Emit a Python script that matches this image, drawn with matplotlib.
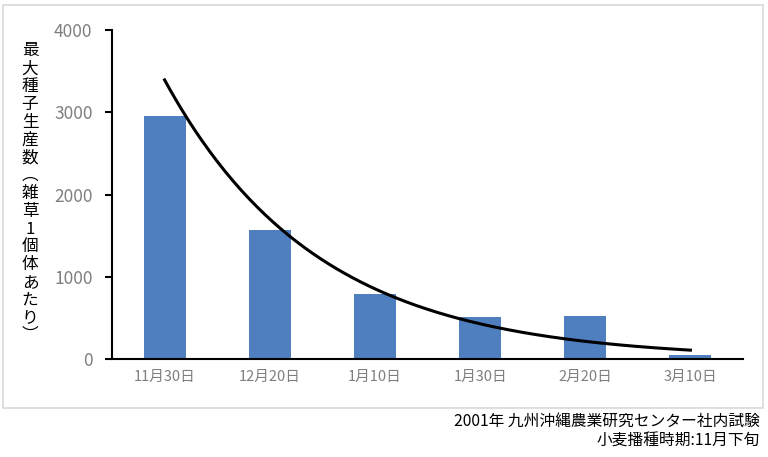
import numpy as np
import matplotlib.pyplot as plt
from matplotlib.patches import Rectangle

plt.rcParams['font.family'] = ['Noto Sans CJK JP', 'DejaVu Sans']

# ---------------- data ----------------
dates = ['11月30日', '12月20日', '1月10日', '1月30日', '2月20日', '3月10日']
seeds = [2960, 1570, 790, 510, 520, 50]
ylabel_chars = ['最', '大', '種', '子', '生', '産', '数', '︵', '雑', '草',
                '1', '個', '体', 'あ', 'た', 'り', '︶']
yticks = [0, 1000, 2000, 3000, 4000]
note1 = '2001年 九州沖縄農業研究センター社内試験'
note2 = '小麦播種時期:11月下旬'

# exponential trendline fitted to the bars (like Excel)
xi = np.arange(1, len(seeds) + 1)
b, ln_a = np.polyfit(xi, np.log(seeds), 1)
xs = np.linspace(1, len(seeds), 200)
trend = np.exp(ln_a) * np.exp(b * xs)

# ---------------- plot ----------------
fig = plt.figure(figsize=(7.68, 4.57), dpi=100)
fig.patches.append(Rectangle((3 / 768, 1 - 408 / 457), 760 / 768, 403 / 457,
                             transform=fig.transFigure, fill=False,
                             edgecolor='#d9d9d9', lw=1.2))

ax = fig.add_axes([112 / 768, 1 - 359 / 457, 631 / 768, 329 / 457])
pos = np.arange(len(dates))
ax.bar(pos, seeds, width=0.4, color='#4f7fbf', zorder=2)
ax.plot(xs - 1, trend, color='black', lw=2.2, zorder=3)

ax.set_xlim(-0.5, len(dates) - 0.5)
ax.set_ylim(0, 4000)
ax.set_yticks(yticks)
ax.set_xticks(pos)
ax.set_xticklabels(dates)
ax.tick_params(axis='x', length=0, pad=8, labelsize=10.5, colors='#7f7f7f')
ax.tick_params(axis='y', length=5, width=1.5, pad=9, labelsize=12.5,
               labelcolor='#7f7f7f', color='black')
ax.spines['top'].set_visible(False)
ax.spines['right'].set_visible(False)
ax.spines['left'].set_linewidth(1.5)
ax.spines['bottom'].set_linewidth(1.5)

# vertical y label, one character per line
top, step = 51, 17.8
for i, ch in enumerate(ylabel_chars):
    fig.text(30 / 768, 1 - (top + i * step) / 457, ch, ha='center', va='center',
             fontsize=12, color='black')

fig.text(760 / 768, 1 - 421 / 457, note1, ha='right', va='center', fontsize=11.3)
fig.text(760 / 768, 1 - 441 / 457, note2, ha='right', va='center', fontsize=11.3)

fig.savefig('out.png', dpi=100)
